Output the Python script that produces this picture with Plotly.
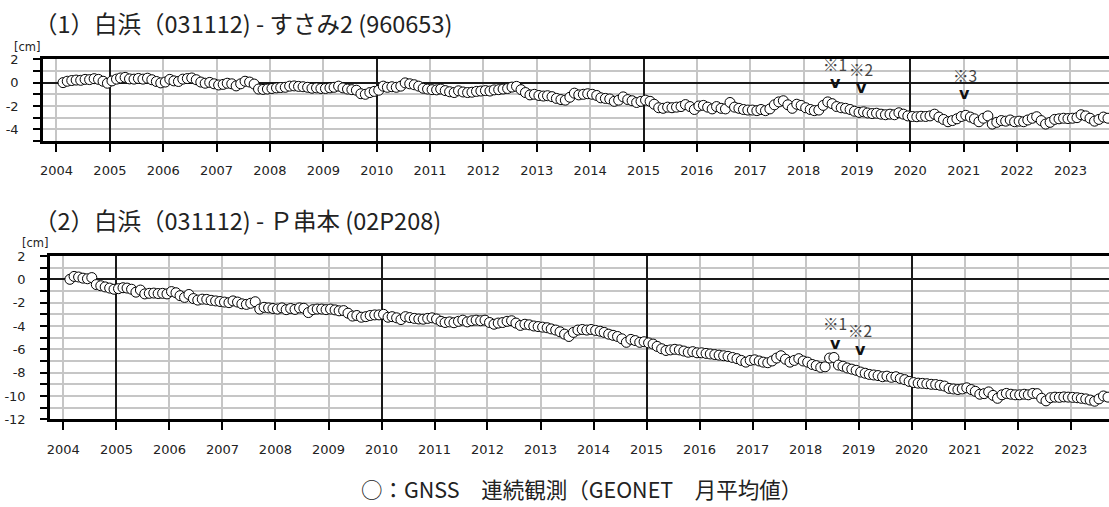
import pandas as pd
import plotly.graph_objects as go

# ---------------- data (cm), monthly means Feb 2004 - Sep 2023 ----------------
susami_cm = [
    0.00, 0.12, 0.18, 0.22, 0.20, 0.28, 0.26, 0.34, 0.28, 0.12, -0.05,                     # 2004 (Feb-Dec)
    0.15, 0.30, 0.40, 0.45, 0.32, 0.30, 0.36, 0.30, 0.38, 0.25, 0.10, -0.02,               # 2005
    0.05, 0.28, 0.15, 0.10, 0.30, 0.35, 0.40, 0.25, 0.05, -0.05, 0.02, -0.10,              # 2006
    -0.20, -0.15, -0.05, -0.10, -0.28, -0.10, 0.12, 0.05, -0.12, -0.55, -0.58, -0.55,      # 2007
    -0.50, -0.45, -0.42, -0.40, -0.30, -0.28, -0.32, -0.35, -0.40, -0.48, -0.45, -0.50,    # 2008
    -0.50, -0.45, -0.40, -0.30, -0.45, -0.55, -0.60, -0.65, -0.95, -1.00, -0.85, -0.75,    # 2009
    -0.65, -0.30, -0.40, -0.35, -0.40, -0.30, -0.02, -0.10, -0.18, -0.30, -0.48, -0.55,    # 2010
    -0.60, -0.62, -0.55, -0.68, -0.78, -0.85, -0.70, -0.80, -0.85, -0.82, -0.75, -0.72,    # 2011
    -0.68, -0.72, -0.62, -0.60, -0.55, -0.50, -0.38, -0.32, -0.60, -0.85, -1.05, -1.00,    # 2012
    -1.10, -1.15, -1.12, -1.20, -1.35, -1.45, -1.50, -1.25, -0.90, -1.05, -1.00, -0.95,    # 2013
    -1.00, -1.10, -1.30, -1.35, -1.40, -1.60, -1.50, -1.22, -1.45, -1.55, -1.70, -1.60,    # 2014
    -1.50, -1.60, -1.85, -2.15, -2.20, -2.10, -2.15, -2.10, -2.05, -1.88, -2.05, -2.30,    # 2015
    -2.00, -1.95, -2.10, -2.25, -2.05, -2.20, -2.25, -1.70, -2.10, -2.20, -2.30, -2.35,    # 2016
    -2.35, -2.40, -2.30, -2.40, -2.25, -1.90, -1.65, -1.55, -1.90, -2.20, -1.85, -1.95,    # 2017
    -2.15, -2.30, -2.40, -2.35, -1.95, -1.65, -1.80, -2.05, -2.15, -2.20, -2.30, -2.45,    # 2018
    -2.55, -2.50, -2.60, -2.65, -2.62, -2.70, -2.75, -2.70, -2.75, -2.58, -2.70, -2.85,    # 2019
    -2.90, -2.92, -2.88, -2.90, -2.85, -2.70, -2.95, -3.15, -3.35, -3.25, -3.10, -2.90,    # 2020
    -2.80, -2.95, -3.10, -3.35, -3.05, -2.85, -3.55, -3.40, -3.25, -3.30, -3.20, -3.35,    # 2021
    -3.30, -3.35, -3.20, -3.05, -2.92, -3.25, -3.55, -3.40, -3.15, -3.10, -3.05, -3.08,    # 2022
    -3.05, -3.00, -2.75, -2.85, -3.05, -3.30, -3.15, -2.95, -3.05,                         # 2023 (Jan-Sep)
]

kushimoto_cm = [
    0.00, 0.25, 0.20, 0.10, 0.05, 0.15, -0.45, -0.55, -0.65, -0.75, -0.85,                 # 2004 (Feb-Dec)
    -0.80, -0.72, -0.75, -0.85, -1.10, -0.92, -1.25, -1.20, -1.18, -1.22, -1.20, -1.25,    # 2005
    -1.05, -1.15, -1.40, -1.55, -1.30, -1.65, -1.78, -1.70, -1.72, -1.80, -1.85, -1.90,    # 2006
    -1.95, -2.00, -1.85, -1.95, -2.10, -2.15, -2.05, -1.92, -2.55, -2.40, -2.45, -2.50,    # 2007
    -2.55, -2.45, -2.60, -2.50, -2.58, -2.45, -2.48, -2.85, -2.60, -2.55, -2.55, -2.60,    # 2008
    -2.55, -2.62, -2.70, -2.68, -2.90, -3.15, -3.10, -3.25, -3.20, -3.10, -3.05, -3.05,    # 2009
    -3.00, -3.25, -3.20, -3.30, -3.45, -3.20, -3.28, -3.35, -3.40, -3.42, -3.35, -3.30,    # 2010
    -3.40, -3.60, -3.70, -3.65, -3.72, -3.60, -3.50, -3.65, -3.55, -3.50, -3.55, -3.50,    # 2011
    -3.70, -3.85, -3.75, -3.70, -3.60, -3.55, -3.75, -3.95, -3.85, -3.90, -4.00, -4.05,    # 2012
    -4.10, -4.15, -4.25, -4.35, -4.50, -4.70, -4.90, -4.55, -4.35, -4.30, -4.35, -4.30,    # 2013
    -4.38, -4.45, -4.55, -4.70, -4.80, -4.90, -5.10, -5.40, -5.15, -5.25, -5.40, -5.35,    # 2014
    -5.45, -5.55, -5.75, -5.95, -6.10, -6.05, -6.00, -6.05, -6.15, -6.25, -6.20, -6.30,    # 2015
    -6.30, -6.35, -6.40, -6.45, -6.50, -6.55, -6.60, -6.70, -6.80, -6.95, -7.10, -6.95,    # 2016
    -6.90, -7.00, -7.10, -7.15, -7.00, -6.75, -6.55, -6.85, -7.10, -6.95, -6.80, -7.00,    # 2017
    -7.10, -7.30, -7.40, -7.55, -7.50, -6.75, -6.70, -7.35, -7.45, -7.60, -7.70, -7.80,    # 2018
    -7.95, -8.05, -8.15, -8.20, -8.25, -8.35, -8.30, -8.40, -8.35, -8.50, -8.60, -8.75,    # 2019
    -8.85, -8.90, -8.92, -8.95, -9.00, -9.02, -9.08, -9.15, -9.35, -9.40, -9.45, -9.40,    # 2020
    -9.30, -9.45, -9.60, -9.85, -9.80, -9.65, -9.95, -10.20, -9.90, -9.78, -9.85, -9.90,   # 2021
    -9.90, -9.85, -9.90, -9.78, -9.80, -10.20, -10.42, -10.15, -10.10, -10.12, -10.08, -10.10,  # 2022
    -10.12, -10.15, -10.20, -10.25, -10.35, -10.45, -10.25, -10.00, -10.10,                # 2023 (Jan-Sep)
]

first_month = "2004-02-01"
titles = ["（1）白浜（031112) - すさみ2 (960653)", "（2）白浜（031112) - Ｐ串本 (02P208)"]
unit_label = "[cm]"
legend_text = "○：GNSS　連続観測（GEONET　月平均値）"
major_tick0 = "2005-01-01"   # black vertical lines every 5 years
y1_ticks = [2, 0, -2, -4]
y2_ticks = [2, 0, -2, -4, -6, -8, -10, -12]

# event marks (label, date, label y, arrow y) per panel
events_1 = [("※1", "2018-08-07", 1.6, -0.03), ("※2", "2019-02-01", 1.17, -0.45), ("※3", "2021-01-07", 0.66, -0.97)]
events_2 = [("※1", "2018-07-25", -3.77, -5.48), ("※2", "2019-01-12", -4.37, -6.0)]

# ---------------- figure ----------------
months = pd.date_range(first_month, periods=len(susami_cm), freq="MS") + pd.Timedelta(days=14)

W, H = 1109, 507
GRID = "#c6c6c6"
TICKFONT = dict(family="DejaVu Sans", size=13, color="#222")

fig = go.Figure()
marker = dict(symbol="circle", size=10, color="white", line=dict(color="black", width=1))
fig.add_trace(go.Scatter(x=months, y=susami_cm, mode="markers", marker=marker,
                         xaxis="x", yaxis="y", showlegend=False))
fig.add_trace(go.Scatter(x=months, y=kushimoto_cm[:len(months)], mode="markers", marker=marker,
                         xaxis="x2", yaxis="y2", showlegend=False))

xrange = ["2003-10-01", "2023-09-22"]


def xaxis_cfg(left_px, anchor):
    return dict(type="date", range=xrange, domain=[left_px / W, 1], anchor=anchor,
                tick0="2004-01-01", dtick="M12", tickformat="%Y",
                ticks="outside", ticklen=8, tickwidth=2, tickcolor="black",
                showline=True, mirror=True, linecolor="black", linewidth=2.5,
                showgrid=True, gridcolor=GRID, gridwidth=1.5, automargin=False,
                tickfont=TICKFONT, ticklabelstandoff=8, zeroline=False)


def overlay_cfg(left_px, base, anchor):
    return dict(type="date", range=xrange, domain=[left_px / W, 1], anchor=anchor,
                overlaying=base, tick0=major_tick0, dtick="M60", automargin=False,
                showgrid=True, gridcolor="#1a1a1a", gridwidth=1.5,
                ticks="", showticklabels=False, showline=False, zeroline=False)


def yaxis_cfg(top_px, bottom_px, rng, anchor, ticks):
    return dict(range=rng, domain=[1 - bottom_px / H, 1 - top_px / H], anchor=anchor,
                tickmode="array", tickvals=ticks, ticktext=[str(v) for v in ticks],
                ticks="outside", ticklen=7, tickwidth=2, tickcolor="black",
                minor=dict(dtick=1, tick0=0, ticks="outside", ticklen=7, tickwidth=2, tickcolor="black",
                           showgrid=True, gridcolor=GRID, gridwidth=1.5),
                showline=True, linecolor="black", linewidth=2.5,
                showgrid=True, gridcolor=GRID, gridwidth=1.5, automargin=False,
                zeroline=True, zerolinecolor="#1a1a1a", zerolinewidth=1.5,
                tickfont=TICKFONT, ticklabelstandoff=12)


fig.update_layout(
    width=W, height=H, margin=dict(l=0, r=0, t=0, b=0, autoexpand=False),
    paper_bgcolor="white", plot_bgcolor="white", showlegend=False,
    xaxis=xaxis_cfg(43, "y"), yaxis=yaxis_cfg(59.3, 141, [-5, 2], "x", y1_ticks),
    xaxis2=xaxis_cfg(50, "y2"), yaxis2=yaxis_cfg(256, 419.3, [-12, 2], "x2", y2_ticks),
    xaxis3=overlay_cfg(43, "x", "y"), xaxis4=overlay_cfg(50, "x2", "y2"),
)
# invisible traces so overlay axes are drawn
fig.add_trace(go.Scatter(x=[months[0]], y=[None], xaxis="x3", yaxis="y", showlegend=False, hoverinfo="skip"))
fig.add_trace(go.Scatter(x=[months[0]], y=[None], xaxis="x4", yaxis="y2", showlegend=False, hoverinfo="skip"))

TITLEFONT = dict(family="Noto Sans CJK JP", size=23.5, color="#222")
for title, ypx, ux, uy in ((titles[0], 23, 12, 46.5), (titles[1], 219.5, 20, 243)):
    fig.add_annotation(text=title, xref="paper", yref="paper", x=32 / W, y=1 - ypx / H,
                       xanchor="left", yanchor="middle", showarrow=False, font=TITLEFONT)
    fig.add_annotation(text=unit_label, xref="paper", yref="paper", x=ux / W, y=1 - uy / H,
                       xanchor="left", yanchor="middle", showarrow=False,
                       font=dict(family="DejaVu Sans", size=11.5, color="#222"))

fig.add_annotation(text=legend_text, xref="paper", yref="paper", x=581 / W, y=1 - 488 / H,
                   xanchor="center", yanchor="middle", showarrow=False,
                   font=dict(family="Noto Sans CJK JP", size=21.5, color="#222"))

for evs, xr, yr in ((events_1, "x", "y"), (events_2, "x2", "y2")):
    for lab, d, ly, ay in evs:
        fig.add_annotation(text=lab, x=d, y=ly, xref=xr, yref=yr, showarrow=False,
                           xanchor="center", yanchor="middle",
                           font=dict(family="Noto Sans CJK JP", size=15.5, color="#444"))
        fig.add_annotation(text="<b>v</b>", x=d, y=ay, xref=xr, yref=yr, showarrow=False,
                           xanchor="center", yanchor="middle",
                           font=dict(family="DejaVu Sans", size=16, color="#111"))

fig.write_html("out.html")
